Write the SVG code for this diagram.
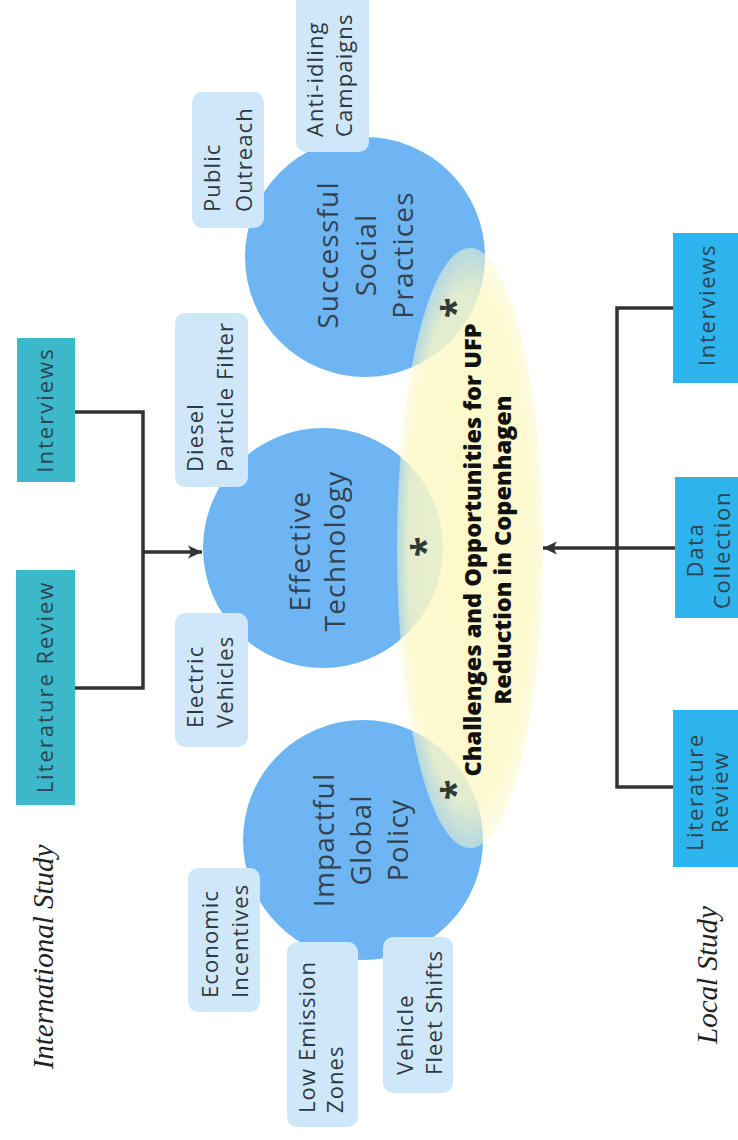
<svg xmlns="http://www.w3.org/2000/svg" width="738" height="1140" viewBox="0 0 738 1140">
<style>
.bg{fill:#ffffff}
.teal{fill:#3db8ca}
.blue{fill:#2db4ec}
.circle{fill:#6db6f3}
.chip{fill:#cfe8f9}
.ttl{font-family:"Liberation Serif",serif;font-style:italic;font-size:29px;fill:#222}
.tb{font-family:"Open Sans","Liberation Sans",sans-serif;font-size:22px;font-weight:500;letter-spacing:2px;fill:#2b4653}
.ct{font-family:"Open Sans","Liberation Sans",sans-serif;font-size:28px;font-weight:500;letter-spacing:1.2px;fill:#34414f}
.cp{font-family:"Open Sans","Liberation Sans",sans-serif;font-size:22px;font-weight:500;letter-spacing:1.1px;fill:#2f373f}
.bt{font-family:"Open Sans","Liberation Sans",sans-serif;font-size:22px;font-weight:500;letter-spacing:1.7px;fill:#2e4350}
.main{font-family:"Open Sans","Liberation Sans",sans-serif;font-size:23.5px;font-weight:800;fill:#111}
.ast{font-family:"Open Sans","Liberation Sans",sans-serif;font-size:38px;font-weight:700;fill:#2f3a33}
.conn{fill:none;stroke:#333;stroke-width:3.5}
</style>
<defs>
<marker id="arr" markerUnits="userSpaceOnUse" markerWidth="16" markerHeight="16" refX="14" refY="7" orient="auto">
<path d="M0,0.5 L14,7 L0,13.5 L3.5,7 z" fill="#333"/>
</marker>
<radialGradient id="yg" cx="0.5" cy="0.5" r="0.5">
<stop offset="0" stop-color="#fcf8c4" stop-opacity="0.9"/>
<stop offset="0.85" stop-color="#fcf8c6" stop-opacity="0.82"/>
<stop offset="1" stop-color="#fcf9cc" stop-opacity="0.5"/>
</radialGradient>
</defs>
<rect class="bg" x="0" y="0" width="738" height="1140"/>

<g id="label-international">
<text class="ttl" text-anchor="middle" transform="translate(53,957) rotate(-90)">International Study</text>
</g>
<g id="label-local">
<text class="ttl" text-anchor="middle" transform="translate(717,975) rotate(-90)">Local Study</text>
</g>

<g id="connectors">
<path class="conn" d="M75,412 H143 V688 H75"/>
<path class="conn" d="M143,552 H202" marker-end="url(#arr)"/>
<path class="conn" d="M673,308 H617 V787 H673"/>
<path class="conn" d="M675,548 H543" marker-end="url(#arr)"/>
</g>

<g id="intl-interviews">
<rect class="teal" x="17" y="338" width="58" height="144"/>
<text class="tb" text-anchor="middle" transform="translate(53,410) rotate(-90)">Interviews</text>
</g>
<g id="intl-literature">
<rect class="teal" x="16" y="570" width="59" height="235"/>
<text class="tb" text-anchor="middle" transform="translate(53,687) rotate(-90)">Literature Review</text>
</g>

<g id="circle-social">
<circle class="circle" cx="365" cy="257" r="120"/>
</g>
<g id="circle-technology">
<circle class="circle" cx="323" cy="548" r="120"/>
</g>
<g id="circle-policy">
<circle class="circle" cx="363" cy="840" r="120"/>
</g>

<g id="central">
<ellipse cx="470" cy="548" rx="73" ry="300" fill="url(#yg)"/>
<text class="main" text-anchor="middle" transform="translate(481,550) rotate(-90)"><tspan x="0" y="0">Challenges and Opportunities for UFP</tspan><tspan x="0" y="30">Reduction in Copenhagen</tspan></text>
<text class="ast" text-anchor="middle" transform="translate(439,547) rotate(-90)">*</text>
<text class="ast" text-anchor="middle" transform="translate(469,308) rotate(-90)">*</text>
<text class="ast" text-anchor="middle" transform="translate(469,790) rotate(-90)">*</text>
</g>

<g id="text-social">
<text class="ct" text-anchor="middle" transform="translate(338,255) rotate(-90)"><tspan x="0" y="0">Successful</tspan><tspan x="0" y="37.5">Social</tspan><tspan x="0" y="75">Practices</tspan></text>
</g>
<g id="text-technology">
<text class="ct" text-anchor="middle" transform="translate(310,551) rotate(-90)"><tspan x="0" y="0">Effective</tspan><tspan x="0" y="35">Technology</tspan></text>
</g>
<g id="text-policy">
<text class="ct" text-anchor="middle" transform="translate(334,840) rotate(-90)"><tspan x="0" y="0">Impactful</tspan><tspan x="0" y="37">Global</tspan><tspan x="0" y="74">Policy</tspan></text>
</g>

<g id="chip-public-outreach">
<rect class="chip" x="192" y="92" width="72" height="136" rx="10"/>
<text class="cp" transform="translate(220,212) rotate(-90)"><tspan x="0" y="0">Public</tspan><tspan x="0" y="32">Outreach</tspan></text>
</g>
<g id="chip-anti-idling">
<rect class="chip" x="296" y="-12" width="73" height="164" rx="10"/>
<text class="cp" transform="translate(323,137) rotate(-90)"><tspan x="0" y="0">Anti-idling</tspan><tspan x="0" y="29">Campaigns</tspan></text>
</g>
<g id="chip-diesel">
<rect class="chip" x="175" y="313" width="73" height="174" rx="10"/>
<text class="cp" transform="translate(203,472) rotate(-90)"><tspan x="0" y="0">Diesel</tspan><tspan x="0" y="30">Particle Filter</tspan></text>
</g>
<g id="chip-electric">
<rect class="chip" x="175" y="613" width="73" height="134" rx="10"/>
<text class="cp" transform="translate(203,728) rotate(-90)"><tspan x="0" y="0">Electric</tspan><tspan x="0" y="30">Vehicles</tspan></text>
</g>
<g id="chip-economic">
<rect class="chip" x="188" y="868" width="72" height="144" rx="10"/>
<text class="cp" transform="translate(218,998) rotate(-90)"><tspan x="0" y="0">Economic</tspan><tspan x="0" y="30">Incentives</tspan></text>
</g>
<g id="chip-low-emission">
<rect class="chip" x="287" y="942" width="71" height="185" rx="10"/>
<text class="cp" transform="translate(315,1113) rotate(-90)"><tspan x="0" y="0">Low Emission</tspan><tspan x="0" y="28">Zones</tspan></text>
</g>
<g id="chip-fleet">
<rect class="chip" x="383" y="937" width="70" height="156" rx="10"/>
<text class="cp" transform="translate(413,1075) rotate(-90)"><tspan x="0" y="0">Vehicle</tspan><tspan x="0" y="29">Fleet Shifts</tspan></text>
</g>

<g id="local-interviews">
<rect class="blue" x="673" y="233" width="70" height="150"/>
<text class="bt" text-anchor="middle" transform="translate(715,305) rotate(-90)">Interviews</text>
</g>
<g id="local-data">
<rect class="blue" x="675" y="477" width="68" height="141"/>
<text class="bt" text-anchor="middle" transform="translate(703,550) rotate(-90)"><tspan x="0" y="0">Data</tspan><tspan x="0" y="27">Collection</tspan></text>
</g>
<g id="local-literature">
<rect class="blue" x="673" y="710" width="70" height="157"/>
<text class="bt" text-anchor="middle" transform="translate(703,792) rotate(-90)"><tspan x="0" y="0">Literature</tspan><tspan x="0" y="25">Review</tspan></text>
</g>
</svg>
